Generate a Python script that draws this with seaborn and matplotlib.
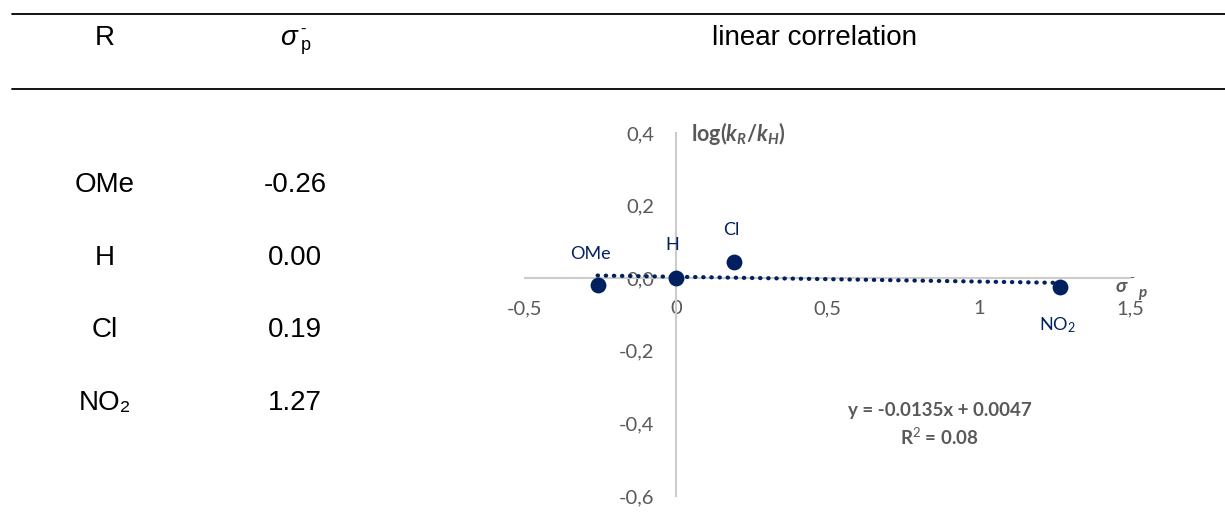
import numpy as np
import matplotlib
matplotlib.use("Agg")
import matplotlib.pyplot as plt
import seaborn as sns

# data
substituents = ["OMe", "H", "Cl", "NO$_2$"]
table_names = ["OMe", "H", "Cl", "NO₂"]
sigma_p = [-0.26, 0.00, 0.19, 1.27]
log_ratio = [-0.02, 0.0, 0.045, -0.025]
x_ticks = [-0.5, 0, 0.5, 1, 1.5]
y_ticks = [-0.6, -0.4, -0.2, 0.0, 0.2, 0.4]
equation = "y = -0.0135x + 0.0047"
r_squared = "R$^2$ = 0.08"

navy = "#002060"
grey = "#595959"
W, H = 1225, 525

sns.set_theme(style="white")
plt.rcParams["font.family"] = ["Lato", "DejaVu Sans"]
plt.rcParams["mathtext.fontset"] = "custom"
plt.rcParams["mathtext.rm"] = "Lato"
plt.rcParams["mathtext.it"] = "Lato:italic"
plt.rcParams["mathtext.bf"] = "Lato:bold"
plt.rcParams["mathtext.bfit"] = "Lato:bold:italic"

fig = plt.figure(figsize=(W / 100, H / 100), dpi=100)

# background axes in pixel coordinates for the table part
bg = fig.add_axes([0, 0, 1, 1])
bg.set_xlim(0, W)
bg.set_ylim(H, 0)
bg.axis("off")
bg.plot([12, W], [14, 14], color="black", lw=1.3)
bg.plot([12, W], [89, 89], color="black", lw=1.3)

tfont = dict(family=["Liberation Sans", "DejaVu Sans"], fontsize=20, color="black",
             ha="center", va="center")
bg.text(105, 38, "R", **tfont)
bg.text(288, 38, "σ", style="italic", **tfont)
bg.text(303, 29, "-", **{**tfont, "fontsize": 12})
bg.text(306, 45, "p", **{**tfont, "fontsize": 13})
bg.text(815, 38, "linear correlation", **tfont)

row_y = [185, 258, 330, 403]
for name, s, yy in zip(table_names, sigma_p, row_y):
    bg.text(105, yy, name, **tfont)
    bg.text(295, yy, f"{s:.2f}", **tfont)

# chart axes
ax = fig.add_axes([525 / W, 1 - 496 / H, 605 / W, (496 - 133) / H])
ax.set_zorder(2)
ax.patch.set_alpha(0)

slope, intercept = np.polyfit(sigma_p, log_ratio, 1)
fx = np.array([min(sigma_p), max(sigma_p)])
ax.plot(fx, slope * fx + intercept, color=navy, lw=3.0, linestyle=(0, (0.1, 1.85)),
        dash_capstyle="round", zorder=3)
sns.scatterplot(x=sigma_p, y=log_ratio, ax=ax, s=130, color=navy, edgecolor=navy,
                linewidth=0, zorder=4)

offsets = [(-5, 23), (-3, 24), (-2, 23), (-2, -27)]
for name, x, y, off in zip(substituents, sigma_p, log_ratio, offsets):
    ax.annotate(name, (x, y), xytext=off, textcoords="offset points",
                ha="center", va="center", color=navy, fontsize=13)

ax.set_xlim(-0.5, 1.5)
ax.set_ylim(-0.6, 0.4)
ax.set_xticks(x_ticks)
ax.set_yticks(y_ticks)
ax.set_xticklabels([f"{v:g}".replace(".", ",") for v in x_ticks])
ax.set_yticklabels([f"{v:.1f}".replace(".", ",") for v in y_ticks])
ax.spines["left"].set_position(("data", 0))
ax.spines["bottom"].set_position(("data", 0))
ax.spines["top"].set_visible(False)
ax.spines["right"].set_visible(False)
for sp in ("left", "bottom"):
    ax.spines[sp].set_color("#cccccc")
    ax.spines[sp].set_linewidth(1.5)
ax.tick_params(axis="both", length=0, labelsize=14.5, labelcolor=grey)
ax.tick_params(axis="x", pad=16)
ax.tick_params(axis="y", pad=16)

ax.text(0.05, 0.4, r"log($\mathbfit{k}_{\mathbfit{R}}$/$\mathbfit{k}_{\mathbfit{H}}$)",
        color=grey, fontsize=15.5, fontweight="bold", ha="left", va="center")
# sigma label at the end of the x axis
fig.text(1121 / W, 1 - 286 / H, "σ", color=grey, fontsize=14, fontweight="bold",
         style="italic", ha="center", va="center")
fig.text(1132 / W, 1 - 278 / H, "-", color=grey, fontsize=10, ha="center", va="center")
fig.text(1142 / W, 1 - 293 / H, "p", color=grey, fontsize=11, fontweight="bold",
         style="italic", ha="center", va="center")

ax.text(0.87, -0.365, equation, color=grey, fontsize=13.5, fontweight="bold",
        ha="center", va="center")
ax.text(0.87, -0.437, r_squared, color=grey, fontsize=13.5, fontweight="bold",
        ha="center", va="center")

fig.savefig("out.png", dpi=100)
